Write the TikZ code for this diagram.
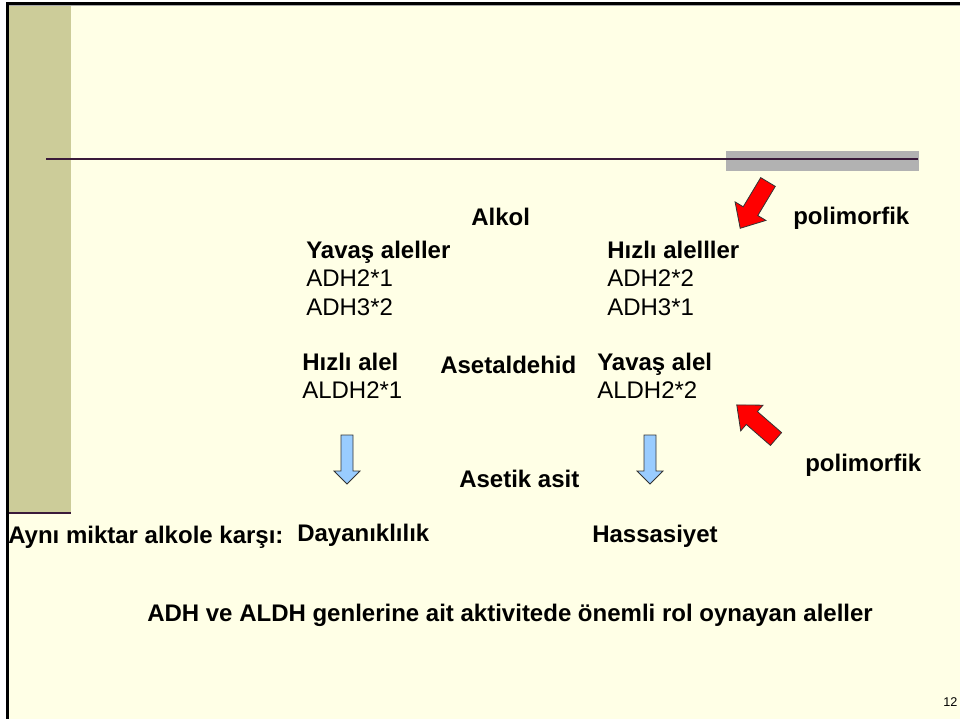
\documentclass[tikz,border=0pt]{standalone}
\usepackage{fontspec}
\setmainfont{Liberation Sans}
\usetikzlibrary{positioning}

\definecolor{slidebg}{HTML}{FFFFE6}
\definecolor{olivebar}{HTML}{CCCC99}
\definecolor{rulepurple}{HTML}{3A1A3A}
\definecolor{rulegrey}{HTML}{B2B2B2}
\definecolor{arrowred}{HTML}{FF0000}
\definecolor{arrowblue}{HTML}{99CCFF}

\tikzset{
  lbl/.style={inner sep=0pt, anchor=base west, font=\fontsize{18}{21}\selectfont},
  bold/.style={lbl, font=\fontsize{18}{21}\selectfont\bfseries},
  redarrow/.style={fill=arrowred, draw=black!80, line width=0.6pt, line join=miter},
  bluearrow/.style={fill=arrowblue, draw=black!80, line width=0.6pt, line join=miter},
}

% block arrow: style, tail, angle, length, head length, half shaft, half head
\newcommand{\blockarrow}[7]{%
  \begin{scope}[shift={#2}, rotate=#3]
    \draw[#1] (0,#6) -- ({#4-#5},#6) -- ({#4-#5},#7) -- (#4,0)
      -- ({#4-#5},-#7) -- ({#4-#5},-#6) -- (0,-#6) -- cycle;
  \end{scope}}

\begin{document}
\begin{tikzpicture}[x=0.75pt, y=-0.75pt, node distance=21.5pt]
  \useasboundingbox (0,0) rectangle (960,719);
  % slide frame
  \fill[slidebg] (9,5) rectangle (960,719);
  \fill[olivebar] (9,5) rectangle (71,513);
  \draw[rulepurple, line width=2.2pt] (9,513) -- (71,513);
  \fill[black] (6,2) rectangle (960,5);
  \fill[black] (6,2) rectangle (9,719);
  \draw[black!35, line width=0.6pt] (9,5.6) -- (960,5.6);
  \fill[rulegrey] (726,151) rectangle (919,171);
  \draw[rulepurple, line width=1.5pt] (46,159) -- (918,159);

  % labels
  \node[bold] (alkol) at (471,225) {Alkol};
  \node[bold] (poly1) at (793,224) {polimorfik};

  \node[bold] (slow) at (306,258) {Yavaş aleller};
  \node[lbl, below=of slow.base west, anchor=base west] (adh21) {ADH2*1};
  \node[lbl, below=of adh21.base west, anchor=base west] (adh32) {ADH3*2};

  \node[bold] (fast) at (607,258) {Hızlı alelller};
  \node[lbl, below=of fast.base west, anchor=base west] (adh22) {ADH2*2};
  \node[lbl, below=of adh22.base west, anchor=base west] (adh31) {ADH3*1};

  \node[bold] (fastal) at (302,370) {Hızlı alel};
  \node[lbl, below=of fastal.base west, anchor=base west] (aldh21) {ALDH2*1};
  \node[bold] (asetal) at (440,373) {Asetaldehid};
  \node[bold] (slowal) at (597,370) {Yavaş alel};
  \node[lbl, below=of slowal.base west, anchor=base west] (aldh22) {ALDH2*2};

  \node[bold] (poly2) at (805,471) {polimorfik};
  \node[bold] (asetik) at (459,487) {Asetik asit};

  \node[bold] (ayni) at (8,543) {Aynı miktar alkole karşı:};
  \node[bold] (dayan) at (297,541) {Dayanıklılık};
  \node[bold] (hassas) at (592,542) {Hassasiyet};

  \node[bold] (caption) at (147,621) {ADH ve ALDH genlerine ait aktivitede önemli rol oynayan aleller};
  \node[lbl, font=\fontsize{9.5}{11}\selectfont] (pagenum) at (943,706) {12};

  % block arrows
  \blockarrow{redarrow}{(768,182)}{-121}{54}{20}{8.5}{18}
  \blockarrow{redarrow}{(776,439)}{139}{52}{20}{8.5}{17}
  \blockarrow{bluearrow}{(347,435)}{-90}{49}{13}{6}{13}
  \blockarrow{bluearrow}{(650,435)}{-90}{49}{13}{6}{13}
\end{tikzpicture}
\end{document}
